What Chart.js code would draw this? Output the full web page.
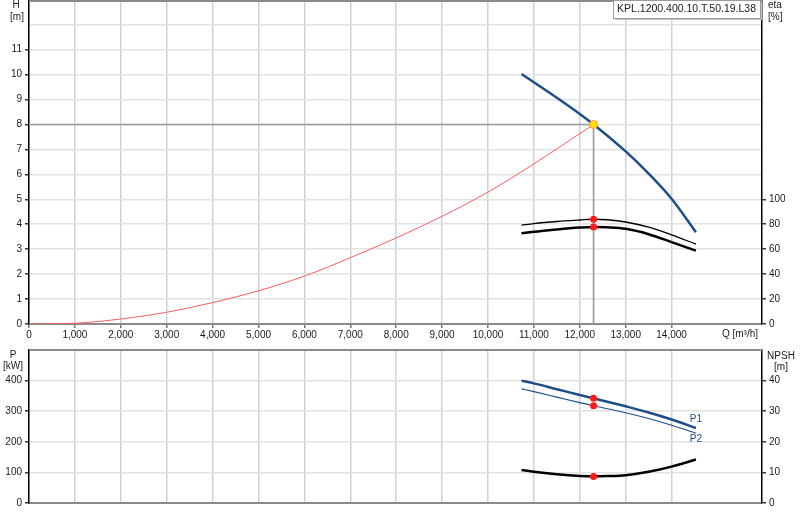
<!DOCTYPE html>
<html>
<head>
<meta charset="utf-8">
<script src="https://cdn.jsdelivr.net/npm/chart.js@4.4.1/dist/chart.umd.min.js"></script>
<style>
  html, body { margin: 0; padding: 0; background: #fff; }
  #wrap { position: relative; width: 800px; height: 520px; }
  #c1 { position: absolute; left: 0; top: 0; }
  #c2 { position: absolute; left: 0; top: 345px; }
</style>
</head>
<body>
<div id="wrap">
  <canvas id="c1" width="800" height="345"></canvas>
  <canvas id="c2" width="800" height="175"></canvas>
</div>
<script>
const pumpQ = [10730, 11000, 11500, 12000, 12300, 13000, 13500, 14000, 14530];
const pumpH = [10.02, 9.69, 9.07, 8.42, 8.0, 6.92, 6.03, 5.02, 3.68];

const sysQ = [0, 1000, 2000, 3000, 4000, 5000, 6000, 7000, 8000, 9000, 10000, 11000, 12300];
const sysH = [0, 0.03, 0.2, 0.47, 0.86, 1.33, 1.92, 2.66, 3.45, 4.32, 5.29, 6.42, 8.0];

const curveQ = [10730, 11000, 11500, 12000, 12300, 12600, 13000, 13500, 14000, 14530];
const etaThin = [79.2, 80.5, 82.2, 83.4, 84, 83.6, 81.8, 77.6, 71.5, 64.0];
const etaThick = [72.8, 73.9, 75.8, 77.3, 77.8, 77.5, 76.3, 72.0, 65.6, 58.8];
const powerP1 = [400, 391, 372, 353, 342, 331, 316, 296, 273, 245];
const powerP2 = [373, 364, 346, 328, 318, 308, 295, 276, 254, 228];
const npshReq = [10.8, 10.2, 9.4, 8.85, 8.7, 8.8, 9.1, 10.2, 11.9, 14.2];

const dutyQ = [12300];
const dutyH = [8.0];
const dutyEta = [84, 77.8];
const dutyP = [342, 318];
const dutyNpsh = [8.7];

const xTicks = [0, 1000, 2000, 3000, 4000, 5000, 6000, 7000, 8000, 9000, 10000, 11000, 12000, 13000, 14000];
const title = 'KPL.1200.400.10.T.50.19.L38';

const FONT = '"Liberation Sans", Arial, sans-serif';
const BLUE = '#1d4e88';
const RED = '#ff1a1a';
const GRID_H = '#e2e2e2';
const GRID_V = '#d2d2d2';

Chart.defaults.font.family = FONT;
Chart.defaults.font.size = 10;
Chart.defaults.color = '#1a1a1a';

const pts = (xs, ys) => xs.map((x, i) => ({ x, y: ys[i] }));

function line(data, color, width, axis, extra) {
  return Object.assign({
    data, yAxisID: axis, borderColor: color, borderWidth: width,
    pointRadius: 0, fill: false, cubicInterpolationMode: 'monotone'
  }, extra || {});
}

function dots(data, axis) {
  return {
    data, yAxisID: axis, showLine: false, pointRadius: 3.5,
    pointBackgroundColor: RED, pointBorderWidth: 0
  };
}

//frame, unit labels, title box
const decor = {
  id: 'decor',
  afterDraw(chart, args, opts) {
    const { ctx, chartArea: a } = chart;
    ctx.save();
    ctx.strokeStyle = '#8a8a8a';
    ctx.lineWidth = 2;
    ctx.beginPath();
    ctx.moveTo(a.left, a.top);
    ctx.lineTo(a.right, a.top);
    ctx.stroke();

    ctx.font = '10px ' + FONT;
    ctx.textBaseline = 'middle';
    (opts.labels || []).forEach(l => {
      ctx.fillStyle = l.color || '#1a1a1a';
      ctx.textAlign = l.align || 'center';
      ctx.fillText(l.text, l.x, l.y);
    });

    if (opts.curveTags) {
      const xs = chart.scales.x, ys = chart.scales.p;
      opts.curveTags.forEach(t => {
        ctx.fillStyle = BLUE;
        ctx.textAlign = 'center';
        ctx.fillText(t.text, xs.getPixelForValue(t.q), ys.getPixelForValue(t.v) + t.dy);
      });
    }

    if (opts.box) {
      ctx.font = '10.5px ' + FONT;
      const tw = ctx.measureText(opts.box).width;
      const bw = tw + 8, bh = 18;
      const bx = a.right - 2 - bw, by = 0;
      ctx.fillStyle = '#c4c4c4';
      ctx.fillRect(bx + 2, by + 2, bw, bh);
      ctx.fillStyle = '#fff';
      ctx.fillRect(bx, by, bw, bh);
      ctx.strokeStyle = '#9a9a9a';
      ctx.lineWidth = 1;
      ctx.strokeRect(bx + 0.5, by + 0.5, bw, bh);
      ctx.fillStyle = '#1a1a1a';
      ctx.textAlign = 'left';
      ctx.fillText(opts.box, bx + 4, by + 9);
    }
    ctx.restore();
  }
};

function xScale(height, showLabels) {
  return {
    type: 'linear', min: 0, max: 15970,
    afterBuildTicks: s => { s.ticks = xTicks.map(v => ({ value: v })); },
    afterFit: s => { s.height = height; s.paddingLeft = 0; s.paddingRight = 0; },
    ticks: {
      display: showLabels, padding: 1, maxRotation: 0, autoSkip: false,
      callback: v => v.toLocaleString('en-US')
    },
    grid: { color: GRID_V, lineWidth: 1.5, drawTicks: showLabels, tickLength: 4, tickColor: '#777' },
    border: { color: '#8a8a8a', width: 2 }
  };
}

function yScale(pos, max, step, lastShown, width, onArea) {
  return {
    type: 'linear', position: pos, min: 0, max,
    afterBuildTicks: s => {
      const t = [];
      for (let v = 0; v <= max + 1e-9; v += step) t.push({ value: v });
      s.ticks = t;
    },
    afterFit: s => { s.width = width; s.paddingTop = 0; s.paddingBottom = 0; },
    ticks: {
      padding: 3, autoSkip: false,
      callback: v => (v <= lastShown ? String(v) : '')
    },
    grid: {
      display: true, drawOnChartArea: onArea, color: GRID_H, lineWidth: 1.5,
      tickLength: 4,
      tickColor: c => (c.tick && c.tick.value <= lastShown ? '#333' : 'rgba(0,0,0,0)')
    },
    border: { color: '#000', width: 1.5 }
  };
}

const common = {
  responsive: false,
  animation: false,
  events: [],
  plugins: { legend: { display: false }, tooltip: { enabled: false } }
};

new Chart(document.getElementById('c1'), {
  type: 'line',
  data: {
    datasets: [
      {
        data: pts(dutyQ, dutyH), yAxisID: 'h', showLine: false, pointRadius: 4,
        pointBackgroundColor: '#ffe600', pointBorderColor: '#ff8a5c', pointBorderWidth: 1
      },
      dots(pts([dutyQ[0], dutyQ[0]], dutyEta), 'eta'),
      line(pts(pumpQ, pumpH), BLUE, 2.5, 'h'),
      line(pts(curveQ, etaThin), '#000', 1.3, 'eta'),
      line(pts(curveQ, etaThick), '#000', 2.5, 'eta'),
      line(pts(sysQ, sysH), '#ff5c5c', 1, 'h'),
      line([{ x: 0, y: dutyH[0] }, { x: dutyQ[0], y: dutyH[0] }, { x: dutyQ[0], y: 0 }],
        '#9a9a9a', 1.6, 'h', { cubicInterpolationMode: 'default', tension: 0 })
    ]
  },
  options: Object.assign({}, common, {
    layout: { autoPadding: false, padding: { top: 1, left: 0, right: 0, bottom: 0 } },
    scales: {
      x: xScale(21, true),
      h: yScale('left', 12.95, 1, 11, 29, true),
      eta: yScale('right', 259, 20, 100, 38, false)
    },
    plugins: Object.assign({}, common.plugins, {
      decor: {
        box: title,
        labels: [
          { text: 'H', x: 16, y: 5 },
          { text: '[m]', x: 17, y: 17 },
          { text: 'eta', x: 768, y: 5, align: 'left' },
          { text: '[%]', x: 768, y: 17, align: 'left' },
          { text: 'Q [m\u00B3/h]', x: 740, y: 334 }
        ]
      }
    })
  }),
  plugins: [decor]
});

new Chart(document.getElementById('c2'), {
  type: 'line',
  data: {
    datasets: [
      dots(pts([dutyQ[0], dutyQ[0]], dutyP), 'p'),
      dots(pts(dutyQ, dutyNpsh), 'npsh'),
      line(pts(curveQ, powerP1), BLUE, 2.5, 'p'),
      line(pts(curveQ, powerP2), BLUE, 1.2, 'p'),
      line(pts(curveQ, npshReq), '#000', 2.5, 'npsh')
    ]
  },
  options: Object.assign({}, common, {
    layout: { autoPadding: false, padding: { top: 5, left: 0, right: 0, bottom: 0 } },
    scales: {
      x: xScale(17, false),
      p: yScale('left', 500, 100, 400, 29, true),
      npsh: yScale('right', 50, 10, 40, 38, false)
    },
    plugins: Object.assign({}, common.plugins, {
      decor: {
        labels: [
          { text: 'P', x: 13, y: 10 },
          { text: '[kW]', x: 13, y: 21 },
          { text: 'NPSH', x: 781, y: 11 },
          { text: '[m]', x: 781, y: 22 }
        ],
        curveTags: [
          { text: 'P1', q: curveQ[curveQ.length - 1], v: powerP1[powerP1.length - 1], dy: -9 },
          { text: 'P2', q: curveQ[curveQ.length - 1], v: powerP2[powerP2.length - 1], dy: 6 }
        ]
      }
    })
  }),
  plugins: [decor]
});
</script>
</body>
</html>
